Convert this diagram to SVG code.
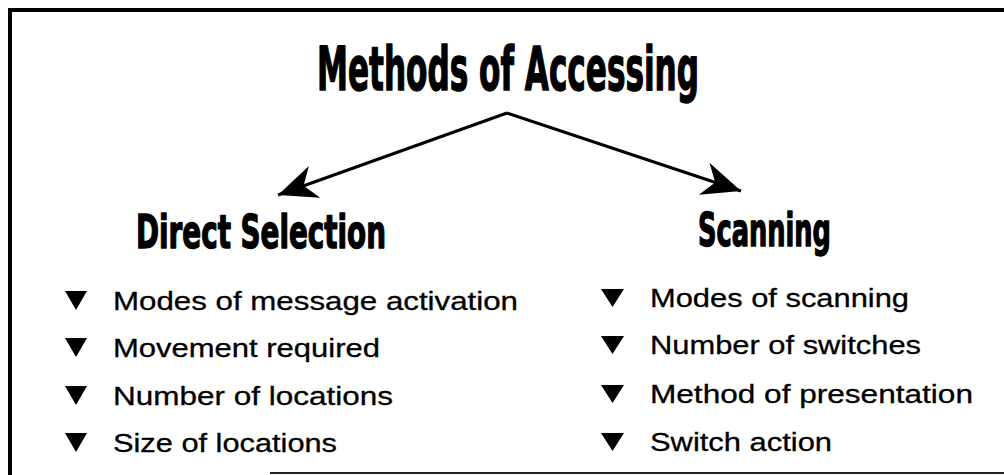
<svg xmlns="http://www.w3.org/2000/svg" width="1004" height="475" viewBox="0 0 1004 475">
<style>
.head{font-family:"Liberation Sans Narrow","DejaVu Sans Condensed","Liberation Sans",sans-serif;font-weight:bold;fill:#000;stroke:#000;stroke-width:1.4;stroke-linejoin:round}
.item{font-family:"Liberation Sans","DejaVu Sans",sans-serif;font-size:26px;fill:#000;stroke:#000;stroke-width:0.3}
.bul{fill:#000}
.conn{stroke:#000;stroke-width:3;fill:none}
</style>
<defs>
<marker id="ah" markerUnits="userSpaceOnUse" markerWidth="44" markerHeight="44" viewBox="-32 -16 34 32" refX="0" refY="0" orient="auto">
<path d="M0,0 L-30,-13 L-21,0 L-30,13 Z" fill="#000"/>
</marker>
</defs>
<rect width="1004" height="475" fill="#fff"/>
<g id="frame">
<path d="M1004,10 H10 V475" fill="none" stroke="#000" stroke-width="4"/>
<path d="M270,473 H1004" fill="none" stroke="#222" stroke-width="2"/>
</g>
<g id="connectors">
<path class="conn" d="M507,113 L278,195" marker-end="url(#ah)"/>
<path class="conn" d="M507,113 L741,191" marker-end="url(#ah)"/>
</g>
<g id="title">
<text class="head" x="317" y="90" font-size="60" textLength="382" lengthAdjust="spacingAndGlyphs">Methods of Accessing</text>
</g>
<g id="direct-selection">
<text class="head" x="136" y="248" font-size="46" textLength="250" lengthAdjust="spacingAndGlyphs">Direct Selection</text>
<path class="bul" d="M65,291 H87 L76,310 Z"/>
<text class="item" x="113" y="310" textLength="405" lengthAdjust="spacingAndGlyphs">Modes of message activation</text>
<path class="bul" d="M65,338 H87 L76,357 Z"/>
<text class="item" x="113" y="357" textLength="267" lengthAdjust="spacingAndGlyphs">Movement required</text>
<path class="bul" d="M65,386 H87 L76,405 Z"/>
<text class="item" x="113" y="405" textLength="280" lengthAdjust="spacingAndGlyphs">Number of locations</text>
<path class="bul" d="M65,433 H87 L76,452 Z"/>
<text class="item" x="113" y="452" textLength="224" lengthAdjust="spacingAndGlyphs">Size of locations</text>
</g>
<g id="scanning">
<text class="head" x="698" y="246" font-size="46" textLength="133" lengthAdjust="spacingAndGlyphs">Scanning</text>
<path class="bul" d="M601,289 H624 L612.5,307 Z"/>
<text class="item" x="650" y="307" textLength="259" lengthAdjust="spacingAndGlyphs">Modes of scanning</text>
<path class="bul" d="M601,336 H624 L612.5,354 Z"/>
<text class="item" x="650" y="354" textLength="271" lengthAdjust="spacingAndGlyphs">Number of switches</text>
<path class="bul" d="M601,385 H624 L612.5,403 Z"/>
<text class="item" x="650" y="403" textLength="323" lengthAdjust="spacingAndGlyphs">Method of presentation</text>
<path class="bul" d="M601,433 H624 L612.5,451 Z"/>
<text class="item" x="650" y="451" textLength="182" lengthAdjust="spacingAndGlyphs">Switch action</text>
</g>
</svg>
